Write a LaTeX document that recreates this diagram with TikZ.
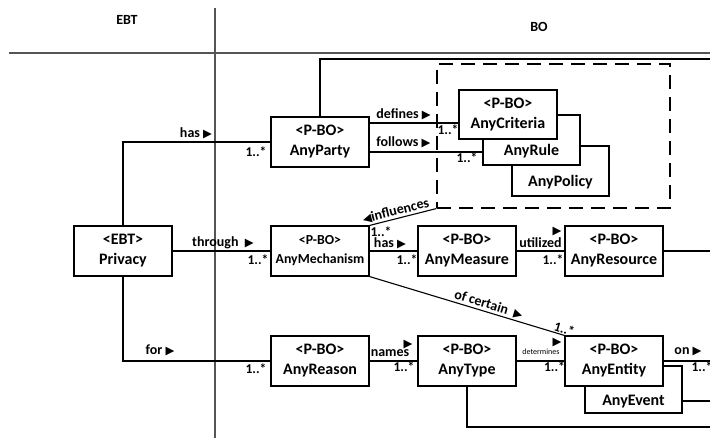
\documentclass[tikz,border=0pt]{standalone}
\usepackage{fontspec}
\setmainfont{Carlito}
\newfontfamily\symfont{DejaVu Sans}
\usetikzlibrary{positioning,calc}
\definecolor{laneGray}{HTML}{555555}
\newcommand{\rarr}{{\symfont\fontsize{11.5}{11.5}\selectfont ▶}}
\newcommand{\larr}{{\symfont\fontsize{11.5}{11.5}\selectfont ◀}}

\begin{document}
\begin{tikzpicture}[
    x=1pt, y=1pt,
    box/.style={rectangle, draw, fill=white, line width=1.1pt,
                minimum width=98pt, minimum height=50pt, align=center,
                inner sep=1pt, font=\fontsize{16}{20}\selectfont\bfseries},
    dashgrp/.style={rectangle, draw, line width=1.1pt, dash pattern=on 14pt off 8pt,
                    minimum width=233pt, minimum height=144pt},
    conn/.style={line width=1.1pt},
    lane/.style={line width=1.1pt, color=laneGray},
    lbl/.style={inner sep=0pt, font=\fontsize{14}{16}\selectfont\bfseries},
    mult/.style={inner sep=0pt, font=\fontsize{13.5}{15}\selectfont\bfseries},
    tinylbl/.style={inner sep=0pt, font=\fontsize{8}{9}\selectfont},
    tri/.style={inner sep=0pt},
]
\useasboundingbox (0,0) rectangle (710,438);

% Swimlanes
\draw[lane] (9,385) -- (710,385);
\draw[lane] (215,430) -- (215,0);
\node[lbl] (ebt) at (127,418) {EBT};
\node[lbl] (bo) at (539,411) {BO};

% EBT
\node[box] (privacy) at (123,187) {<EBT>\\Privacy};

% P-BO column 1
\node[box] (party) at (320,296) {<P-BO>\\AnyParty};
\node[box, font=\fontsize{13.8}{19}\selectfont\bfseries] (mech) at (320,187) {<P-BO>\\AnyMechanism};
\node[box] (reason) at (320,77) {<P-BO>\\AnyReason};

% P-BO column 2 and 3
\node[box] (measure) at (467,187) {<P-BO>\\AnyMeasure};
\node[box] (resource) at (614,187) {<P-BO>\\AnyResource};
\node[box] (type) at (467,77) {<P-BO>\\AnyType};
\node[box, minimum width=97pt, minimum height=47pt] (event) at (633.5,48.5) {\strut\\AnyEvent};
\node[box] (entity) at (614,77) {<P-BO>\\AnyEntity};

% Criteria group
\node[dashgrp] (policies) at (553.5,302) {};
\node[box, minimum width=97pt] (policy) at (560.5,267) {\strut\\AnyPolicy};
\node[box, minimum width=97pt] (rule) at (531.5,298) {\strut\\AnyRule};
\node[box, minimum height=49pt] (criteria) at (508,323.5) {<P-BO>\\AnyCriteria};

% Free ends at the right border
\coordinate (outParty) at (710,379);
\coordinate (outRes) at (710,187);
\coordinate (outEnt) at (710,77);
\coordinate (outEvt) at (710,37);
\coordinate (outType) at (710,11);

% Connectors from Privacy
\draw[conn] (privacy.north) |- (party.west);
\draw[conn] (privacy.east) -- (mech.west);
\draw[conn] (privacy.south) |- (reason.west);

% AnyParty
\draw[conn] ([yshift=19pt]party.east) -- ([yshift=19pt]party.east -| criteria.west);
\draw[conn] ([yshift=-10pt]party.east) -- ([yshift=-10pt]party.east -| rule.west);
\draw[conn] (party.north) |- (outParty);

% AnyMechanism
\draw[conn] (mech.north east) -- node[lbl, sloped, above=1.5pt, pos=0.42] (lblInfl) {\larr influences} (policies.south west);
\draw[conn] (mech.east) -- (measure.west);
\draw[conn] (mech.south east) -- node[lbl, sloped, above=1.5pt, pos=0.6] (lblCert) {of certain\ \ \rarr}
    node[mult, sloped, above=1pt, pos=0.99] (mCert) {1..*} (entity.north west);
\draw[conn] (measure.east) -- (resource.west);
\draw[conn] (resource.east) -- (outRes);

% AnyReason row
\draw[conn] (reason.east) -- (type.west);
\draw[conn] (type.east) -- (entity.west);
\draw[conn] (entity.east) -- (outEnt);
\draw[conn] ([yshift=-11.5pt]event.east) -- (outEvt);
\draw[conn] (type.south) |- (outType);

% Labels
\node[lbl] (lblHas) at (196,305) {has \rarr};
\node[mult] (mParty) at (256,286) {1..*};
\node[lbl] (lblThrough) at (223,195) {through\ \ \rarr};
\node[mult] (mMech) at (258,178) {1..*};
\node[lbl] (lblFor) at (160,88) {for \rarr};
\node[mult] (mReason) at (256,69) {1..*};
\node[lbl] (lblDefines) at (403.5,324) {defines \rarr};
\node[lbl] (lblFollows) at (403.5,296) {follows \rarr};
\node[mult] (mCrit) at (448,308) {1..*};
\node[mult] (mRule) at (467,280) {1..*};
\node[mult] (mInfl) at (381,206) {1..*};
\node[lbl] (lblHas2) at (390,195) {has \rarr};
\node[mult] (mMeasure) at (407,178) {1..*};
\node[lbl] (lblUtil) at (540.5,195) {utilized};
\node[tri] (tUtil) at (557,206) {\rarr};
\node[mult] (mRes) at (553,178) {1..*};
\node[lbl] (lblNames) at (390,85) {names};
\node[tri] (tNames) at (408,93) {\rarr};
\node[mult] (mType) at (404,71) {1..*};
\node[tinylbl] (lblDet) at (541,86) {determines};
\node[tri] (tDet) at (557,95) {\rarr};
\node[mult] (mEnt) at (554.5,71) {1..*};
\node[lbl] (lblOn) at (688,86) {on \rarr};
\node[mult] (mOn) at (702,71) {1..*};

\end{tikzpicture}
\end{document}
